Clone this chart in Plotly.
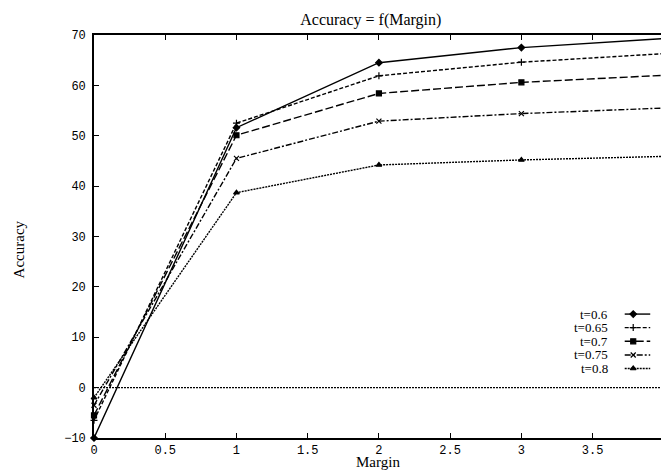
import plotly.graph_objects as go

# Accuracy as a function of margin, one curve per threshold t
margin = [0, 1, 2, 3, 4]
acc_t060 = [-10.0, 51.6, 64.5, 67.5, 69.3]
acc_t065 = [-6.5, 52.5, 61.9, 64.6, 66.3]
acc_t070 = [-5.5, 50.1, 58.4, 60.6, 62.0]
acc_t075 = [-3.5, 45.5, 52.9, 54.4, 55.5]
acc_t080 = [-2.0, 38.7, 44.2, 45.2, 45.9]

labels = ["t=0.6", "t=0.65", "t=0.7", "t=0.75", "t=0.8"]
series = [acc_t060, acc_t065, acc_t070, acc_t075, acc_t080]
dashes = ["solid", "4px,2px", "8px,3px", "6px,2px,2px,2px", "2px,1px"]
symbols = ["diamond", "cross-thin", "square", "x-thin", "triangle-up"]

fig = go.Figure()
for lab, ys, d, s in zip(labels, series, dashes, symbols):
    fig.add_trace(go.Scatter(
        x=margin, y=ys, name=lab, mode="lines+markers",
        line=dict(color="black", width=1.4, dash=d),
        marker=dict(symbol=s, size=5, color="black",
                    line=dict(color="black", width=1.2)),
        cliponaxis=False, showlegend=False,
    ))

# dotted zero reference line
fig.add_hline(y=0, line=dict(color="black", width=1.3, dash="2px,1px"))

# key in the lower right: label then sample line with its marker
row_y = [0.3075, 0.274, 0.240, 0.206, 0.1725]
for i, (lab, d, s) in enumerate(zip(labels, dashes, symbols)):
    fig.add_annotation(x=0.908, y=row_y[i], xref="paper", yref="paper",
                       text=lab, showarrow=False, xanchor="right",
                       yanchor="middle", borderpad=0,
                       font=dict(family="Liberation Serif", size=13,
                                 color="black"))
    fig.add_shape(type="line", xref="paper", yref="paper",
                  x0=0.936, x1=0.981, y0=row_y[i], y1=row_y[i],
                  line=dict(color="black", width=1.4, dash=d))
    fig.add_trace(go.Scatter(
        x=[0.951], y=[row_y[i]], xaxis="x2", yaxis="y2", mode="markers",
        marker=dict(symbol=s, size=5, color="black",
                    line=dict(color="black", width=1.2)),
        showlegend=False, hoverinfo="skip", cliponaxis=False,
    ))

# axis titles
fig.add_annotation(x=0.501, y=-0.059, xref="paper", yref="paper",
                   text="Margin", showarrow=False, xanchor="center",
                   yanchor="middle", borderpad=0,
                   font=dict(family="Liberation Serif", size=15, color="black"))
fig.add_annotation(x=-0.133, y=0.467, xref="paper", yref="paper",
                   text="Accuracy", showarrow=False, textangle=-90,
                   xanchor="center", yanchor="middle",
                   font=dict(family="Liberation Serif", size=15, color="black"))

mono = dict(family="Liberation Mono", size=12, color="black")
fig.update_layout(
    width=661, height=473,
    margin=dict(l=94, r=0, t=35, b=35),
    paper_bgcolor="white", plot_bgcolor="white",
    title=dict(text="Accuracy = f(Margin)", x=0.561, xanchor="center",
               y=0.97, yanchor="top",
               font=dict(family="Liberation Serif", size=16, color="black")),
    xaxis=dict(range=[0, 3.98], tickvals=[0, 0.5, 1, 1.5, 2, 2.5, 3, 3.5],
               ticktext=["0", "0.5", "1", "1.5", "2", "2.5", "3", "3.5"],
               ticks="inside", ticklen=5, tickcolor="black",
               showline=True, linecolor="black", linewidth=1.6,
               mirror="ticks", showgrid=False, zeroline=False,
               tickfont=mono),
    yaxis=dict(range=[-10, 70], tickvals=list(range(-10, 71, 10)),
               ticks="inside", ticklen=5, tickcolor="black",
               showline=True, linecolor="black", linewidth=1.6,
               showgrid=False, zeroline=False, tickfont=mono,
               ticklabelstandoff=4),
    xaxis2=dict(domain=[0, 1], range=[0, 1], overlaying="x", visible=False,
                anchor="y2"),
    yaxis2=dict(domain=[0, 1], range=[0, 1], overlaying="y", visible=False,
                anchor="x2"),
)

fig.write_html("out.html")
